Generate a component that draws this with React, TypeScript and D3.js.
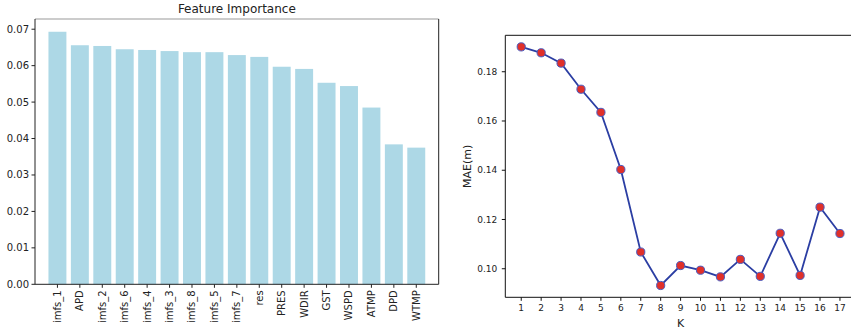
import React from "react";
import * as d3 from "d3";

const features = ["imfs_1","APD","imfs_2","imfs_6","imfs_4","imfs_3","imfs_8","imfs_5","imfs_7","res","PRES","WDIR","GST","WSPD","ATMP","DPD","WTMP"];
const importance = [0.0693,0.0656,0.0654,0.0645,0.0643,0.0640,0.0637,0.0637,0.0629,0.0624,0.0597,0.0591,0.0553,0.0544,0.0485,0.0384,0.0375];
const impTicks = [0,0.01,0.02,0.03,0.04,0.05,0.06,0.07];

const kValues = [1,2,3,4,5,6,7,8,9,10,11,12,13,14,15,16,17];
const maeValues = [0.1901,0.1877,0.1835,0.1729,0.1635,0.1403,0.1068,0.0932,0.1013,0.0994,0.0967,0.1038,0.0969,0.1144,0.0973,0.1250,0.1143];
const maeTicks = [0.10,0.12,0.14,0.16,0.18];

const FONT = "DejaVu Sans, sans-serif";

export default function App() {
  // left panel
  const L = { l: 35, r: 438.7, t: 19, b: 284.3 };
  const xL = d3.scaleLinear().domain([-1, 17]).range([L.l, L.r]);
  const yL = d3.scaleLinear().domain([0, 0.0728]).range([L.b, L.t]);
  const bw = (xL(0.4) - xL(-0.4));

  // right panel
  const R = { l: 505.3, r: 855.9, t: 35.3, b: 297.3 };
  const xR = d3.scaleLinear().domain([0.2, 17.8]).range([R.l, R.r]);
  const yR = d3.scaleLinear().domain([0.0884, 0.1948]).range([R.b, R.t]);
  const line = d3.line<number>().x((_, i) => xR(kValues[i])).y((d) => yR(d));

  return (
    <svg width={851} height={329} style={{ position: "absolute", left: 0, top: 0, background: "#fff" }} fontFamily={FONT}>
      <rect x={0} y={0} width={851} height={329} fill="#fff" />
      {/* Left: Feature importance */}
      <text x={(L.l + L.r) / 2} y={13.3} fontSize={12} textAnchor="middle" fill="#222">Feature Importance</text>
      {importance.map((v, i) => (
        <rect key={features[i]} x={xL(i) - bw / 2} y={yL(v)} width={bw} height={yL(0) - yL(v)} fill="#add8e6" />
      ))}
      <line x1={L.l} x2={L.r} y1={L.t} y2={L.t} stroke="#999" strokeWidth={1} />
      <line x1={L.r} x2={L.r} y1={L.t} y2={L.b} stroke="#222" strokeWidth={1} />
      <line x1={L.l} x2={L.l} y1={L.t} y2={L.b} stroke="#222" strokeWidth={1} />
      <line x1={L.l} x2={L.r} y1={L.b} y2={L.b} stroke="#222" strokeWidth={1} />
      {impTicks.map((t) => (
        <g key={t}>
          <line x1={L.l - 3.5} x2={L.l} y1={yL(t)} y2={yL(t)} stroke="#222" />
          <text x={L.l - 6} y={yL(t)} dy="0.35em" fontSize={10} textAnchor="end" fill="#222">{t.toFixed(2)}</text>
        </g>
      ))}
      {features.map((f, i) => (
        <g key={f}>
          <line x1={xL(i)} x2={xL(i)} y1={L.b} y2={L.b + 3.5} stroke="#222" />
          <text transform={`translate(${xL(i)},${L.b + 6}) rotate(-90)`} fontSize={10} textAnchor="end" dy="0.35em" fill="#222">{f}</text>
        </g>
      ))}

      {/* Right: MAE vs K */}
      <line x1={R.l} x2={R.r} y1={R.t} y2={R.t} stroke="#111" />
      <line x1={R.r} x2={R.r} y1={R.t} y2={R.b} stroke="#111" />
      <line x1={R.l} x2={R.l} y1={R.t} y2={R.b} stroke="#111" />
      <line x1={R.l} x2={R.r} y1={R.b} y2={R.b} stroke="#111" />
      {maeTicks.map((t) => (
        <g key={t}>
          <line x1={R.l - 3.5} x2={R.l} y1={yR(t)} y2={yR(t)} stroke="#111" />
          <text x={R.l - 8} y={yR(t)} dy="0.35em" fontSize={9} textAnchor="end" fill="#222">{t.toFixed(2)}</text>
        </g>
      ))}
      {kValues.map((k) => (
        <g key={k}>
          <line x1={xR(k)} x2={xR(k)} y1={R.b} y2={R.b + 3.5} stroke="#111" />
          <text x={xR(k)} y={R.b + 14} fontSize={9} textAnchor="middle" fill="#222">{k}</text>
        </g>
      ))}
      <text x={(R.l + 855.9) / 2} y={326.5} fontSize={11} textAnchor="middle" fill="#222">K</text>
      <text transform={`translate(471,${(R.t + R.b) / 2}) rotate(-90)`} fontSize={11} textAnchor="middle" fill="#222">MAE(m)</text>
      <path d={line(maeValues) || ""} fill="none" stroke="#2b3ea3" strokeWidth={1.8} />
      {maeValues.map((v, i) => (
        <circle key={i} cx={xR(kValues[i])} cy={yR(v)} r={4.1} fill="#e0302a" stroke="#4a5cc0" strokeWidth={1} />
      ))}
    </svg>
  );
}
